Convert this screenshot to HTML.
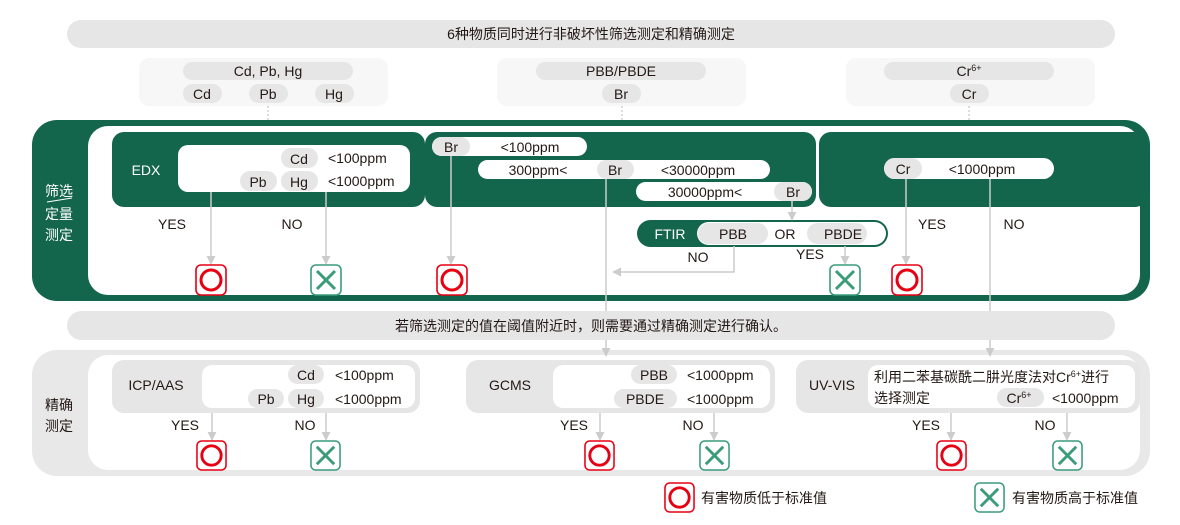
<!DOCTYPE html>
<html><head><meta charset="utf-8"><style>
html,body{margin:0;padding:0;background:#fff}
svg{display:block}
text{font-family:"Liberation Sans","Noto Sans CJK SC",sans-serif;font-size:14px;fill:#231815}
.w{fill:#fff}
.c{text-anchor:middle}
</style></head><body>
<svg width="1180" height="525" viewBox="0 0 1180 525" xmlns="http://www.w3.org/2000/svg">
<defs>
<symbol id="ok" viewBox="0 0 32 32"><rect x="1" y="1" width="30" height="30" rx="5" fill="#fff" stroke="#e60012" stroke-width="1.6"/><circle cx="16" cy="16" r="10" fill="none" stroke="#e60012" stroke-width="3"/></symbol>
<symbol id="ng" viewBox="0 0 32 32"><rect x="1" y="1" width="30" height="30" rx="5" fill="#fff" stroke="#3a9c78" stroke-width="1.6"/><path d="M7 7L25 25M25 7L7 25" stroke="#3a9c78" stroke-width="3"/></symbol>
<marker id="ar" viewBox="0 0 10 10" refX="9" refY="5" markerWidth="9" markerHeight="9" markerUnits="userSpaceOnUse" orient="auto"><path d="M0 0L10 5L0 10z" fill="#ccc"/></marker>
</defs>

<rect x="67" y="20" width="1048" height="28" rx="14" fill="#e6e6e6"/>
<text x="591" y="39" class="c">6种物质同时进行非破坏性筛选测定和精确测定</text>

<rect x="139" y="58" width="249" height="48" rx="10" fill="#f7f7f7"/>
<rect x="183" y="62" width="170" height="18" rx="9" fill="#e6e6e6"/><text x="268" y="76" class="c">Cd, Pb, Hg</text>
<rect x="183" y="84" width="39" height="19" rx="9.5" fill="#e6e6e6"/><text x="202" y="99" class="c">Cd</text>
<rect x="249" y="84" width="39" height="19" rx="9.5" fill="#e6e6e6"/><text x="268" y="99" class="c">Pb</text>
<rect x="315" y="84" width="39" height="19" rx="9.5" fill="#e6e6e6"/><text x="334" y="99" class="c">Hg</text>
<rect x="497" y="58" width="249" height="48" rx="10" fill="#f7f7f7"/>
<rect x="536" y="62" width="170" height="18" rx="9" fill="#e6e6e6"/><text x="621" y="76" class="c">PBB/PBDE</text>
<rect x="602" y="84" width="39" height="19" rx="9.5" fill="#e6e6e6"/><text x="621" y="99" class="c">Br</text>
<rect x="846" y="58" width="249" height="48" rx="10" fill="#f7f7f7"/>
<rect x="884" y="62" width="170" height="18" rx="9" fill="#e6e6e6"/><text x="969" y="76" class="c">Cr<tspan font-size="9" dy="-5">6+</tspan></text>
<rect x="950" y="84" width="39" height="19" rx="9.5" fill="#e6e6e6"/><text x="969" y="99" class="c">Cr</text>
<g stroke="#bbb" stroke-dasharray="2,2" stroke-width="1"><path d="M268 106V126M622 106V126M969 106V126"/></g>

<rect x="32" y="120" width="1118" height="181" rx="25" fill="#13654b"/>
<rect x="88" y="126" width="1052" height="169" rx="20" fill="#fff"/>
<text x="59" y="196" class="c w">筛选</text>
<path d="M47 202L72 198" stroke="#fff" stroke-width="1"/>
<text x="59" y="219" class="c w">定量</text>
<text x="59" y="240" class="c w">测定</text>

<rect x="112" y="132" width="313" height="75" rx="12" fill="#13654b"/>
<text x="146" y="175" class="c w">EDX</text>
<rect x="178" y="145" width="232" height="47" rx="10" fill="#fff"/>
<rect x="281" y="148" width="37" height="20" rx="10" fill="#e6e6e6"/><text x="299" y="164" class="c">Cd</text>
<rect x="240" y="171" width="37" height="20" rx="10" fill="#e6e6e6"/><text x="258" y="187" class="c">Pb</text>
<rect x="281" y="171" width="37" height="20" rx="10" fill="#e6e6e6"/><text x="299" y="187" class="c">Hg</text>
<text x="328" y="163">&lt;100ppm</text>
<text x="328" y="186">&lt;1000ppm</text>

<rect x="425" y="132" width="391" height="75" rx="12" fill="#13654b"/>
<rect x="432" y="137" width="155" height="19" rx="9.5" fill="#fff"/>
<rect x="432" y="137" width="38" height="19" rx="9.5" fill="#e6e6e6"/><text x="451" y="152" class="c">Br</text>
<text x="530" y="152" class="c">&lt;100ppm</text>
<rect x="478" y="160" width="292" height="19" rx="9.5" fill="#fff"/>
<text x="538" y="175" class="c">300ppm&lt;</text>
<rect x="597" y="160" width="37" height="19" rx="9.5" fill="#e6e6e6"/><text x="615" y="175" class="c">Br</text>
<text x="698" y="175" class="c">&lt;30000ppm</text>
<rect x="636" y="182" width="176" height="19" rx="9.5" fill="#fff"/>
<text x="705" y="197" class="c">30000ppm&lt;</text>
<rect x="774" y="182" width="38" height="19" rx="9.5" fill="#e6e6e6"/><text x="793" y="197" class="c">Br</text>

<rect x="819" y="132" width="328" height="75" rx="12" fill="#13654b"/>
<rect x="884" y="158" width="170" height="21" rx="10.5" fill="#fff"/>
<rect x="884" y="158" width="38" height="21" rx="10.5" fill="#e6e6e6"/><text x="903" y="174" class="c">Cr</text>
<text x="982" y="174" class="c">&lt;1000ppm</text>

<rect x="637" y="220" width="251" height="27" rx="13.5" fill="#13654b"/>
<rect x="697" y="222" width="189" height="23" rx="11.5" fill="#fff"/>
<text x="670" y="239" class="c w">FTIR</text>
<rect x="698" y="223" width="70" height="21" rx="10.5" fill="#e6e6e6"/><text x="733" y="239" class="c">PBB</text>
<text x="785" y="239" class="c">OR</text>
<rect x="807" y="223" width="60" height="21" rx="10.5" fill="#e6e6e6"/><text x="843" y="239" class="c">PBDE</text>

<text x="172" y="229" class="c">YES</text>
<text x="292" y="229" class="c">NO</text>
<text x="698" y="262" class="c">NO</text>
<text x="810" y="259" class="c">YES</text>
<text x="932" y="229" class="c">YES</text>
<text x="1014" y="229" class="c">NO</text>

<rect x="32" y="350" width="1118" height="126" rx="25" fill="#e8e8e8"/>
<rect x="88" y="355" width="1052" height="115" rx="20" fill="#fff"/>

<g stroke="#ccc" stroke-width="1.5" fill="none" marker-end="url(#ar)">
<path d="M211 192V264"/><path d="M326 192V264"/><path d="M451 156V264"/>
<path d="M792 201V220"/><path d="M734 246V272H613"/><path d="M845 246V264"/>
<path d="M906 179V264"/><path d="M990 179V356"/><path d="M606 179V356"/>
</g>
<use href="#ok" x="195" y="264" width="32" height="32"/>
<use href="#ng" x="310" y="264" width="32" height="32"/>
<use href="#ok" x="436" y="264" width="32" height="32"/>
<use href="#ng" x="829" y="264" width="32" height="32"/>
<use href="#ok" x="891" y="264" width="32" height="32"/>

<rect x="67" y="311" width="1048" height="29" rx="14.5" fill="#e6e6e6"/>
<text x="591" y="331" class="c">若筛选测定的值在阈值附近时，则需要通过精确测定进行确认。</text>

<text x="59" y="410" class="c">精确</text>
<text x="59" y="431" class="c">测定</text>

<rect x="112" y="360" width="308" height="53" rx="12" fill="#e6e6e6"/>
<text x="156" y="390" class="c">ICP/AAS</text>
<rect x="202" y="365" width="213" height="43" rx="10" fill="#fff"/>
<rect x="288" y="365" width="36" height="19" rx="9.5" fill="#e6e6e6"/><text x="306" y="380" class="c">Cd</text>
<rect x="248" y="389" width="36" height="19" rx="9.5" fill="#e6e6e6"/><text x="266" y="404" class="c">Pb</text>
<rect x="288" y="389" width="36" height="19" rx="9.5" fill="#e6e6e6"/><text x="306" y="404" class="c">Hg</text>
<text x="335" y="380">&lt;100ppm</text>
<text x="335" y="404">&lt;1000ppm</text>

<rect x="466" y="360" width="309" height="53" rx="12" fill="#e6e6e6"/>
<text x="510" y="390" class="c">GCMS</text>
<rect x="553" y="365" width="217" height="43" rx="10" fill="#fff"/>
<rect x="631" y="365" width="46" height="19" rx="9.5" fill="#e6e6e6"/><text x="654" y="380" class="c">PBB</text>
<rect x="614" y="389" width="63" height="19" rx="9.5" fill="#e6e6e6"/><text x="645" y="404" class="c">PBDE</text>
<text x="687" y="380">&lt;1000ppm</text>
<text x="687" y="404">&lt;1000ppm</text>

<rect x="796" y="360" width="344" height="53" rx="12" fill="#e6e6e6"/>
<text x="832" y="390" class="c">UV-VIS</text>
<rect x="868" y="365" width="267" height="43" rx="10" fill="#fff"/>
<text x="874" y="382">利用二苯基碳酰二肼光度法对Cr<tspan font-size="9" dy="-5">6+</tspan><tspan dy="5">进行</tspan></text>
<text x="874" y="403">选择测定</text>
<rect x="997" y="388" width="47" height="19" rx="9.5" fill="#e6e6e6"/><text x="1019" y="403" class="c">Cr<tspan font-size="9" dy="-5">6+</tspan></text>
<text x="1052" y="403">&lt;1000ppm</text>

<text x="185" y="430" class="c">YES</text>
<text x="305" y="430" class="c">NO</text>
<text x="574" y="430" class="c">YES</text>
<text x="693" y="430" class="c">NO</text>
<text x="926" y="430" class="c">YES</text>
<text x="1045" y="430" class="c">NO</text>
<g stroke="#ccc" stroke-width="1.5" fill="none" marker-end="url(#ar)">
<path d="M212 413V440"/><path d="M326 413V440"/><path d="M600 413V440"/><path d="M714 413V440"/><path d="M951 413V440"/><path d="M1067 413V440"/>
</g>
<use href="#ok" x="196" y="440" width="31" height="31"/>
<use href="#ng" x="310" y="440" width="31" height="31"/>
<use href="#ok" x="584" y="440" width="31" height="31"/>
<use href="#ng" x="699" y="440" width="31" height="31"/>
<use href="#ok" x="936" y="440" width="31" height="31"/>
<use href="#ng" x="1052" y="440" width="31" height="31"/>

<use href="#ok" x="664" y="482" width="31" height="31"/>
<text x="701" y="503">有害物质低于标准值</text>
<use href="#ng" x="974" y="482" width="31" height="31"/>
<text x="1012" y="503">有害物质高于标准值</text>
</svg>
</body></html>
